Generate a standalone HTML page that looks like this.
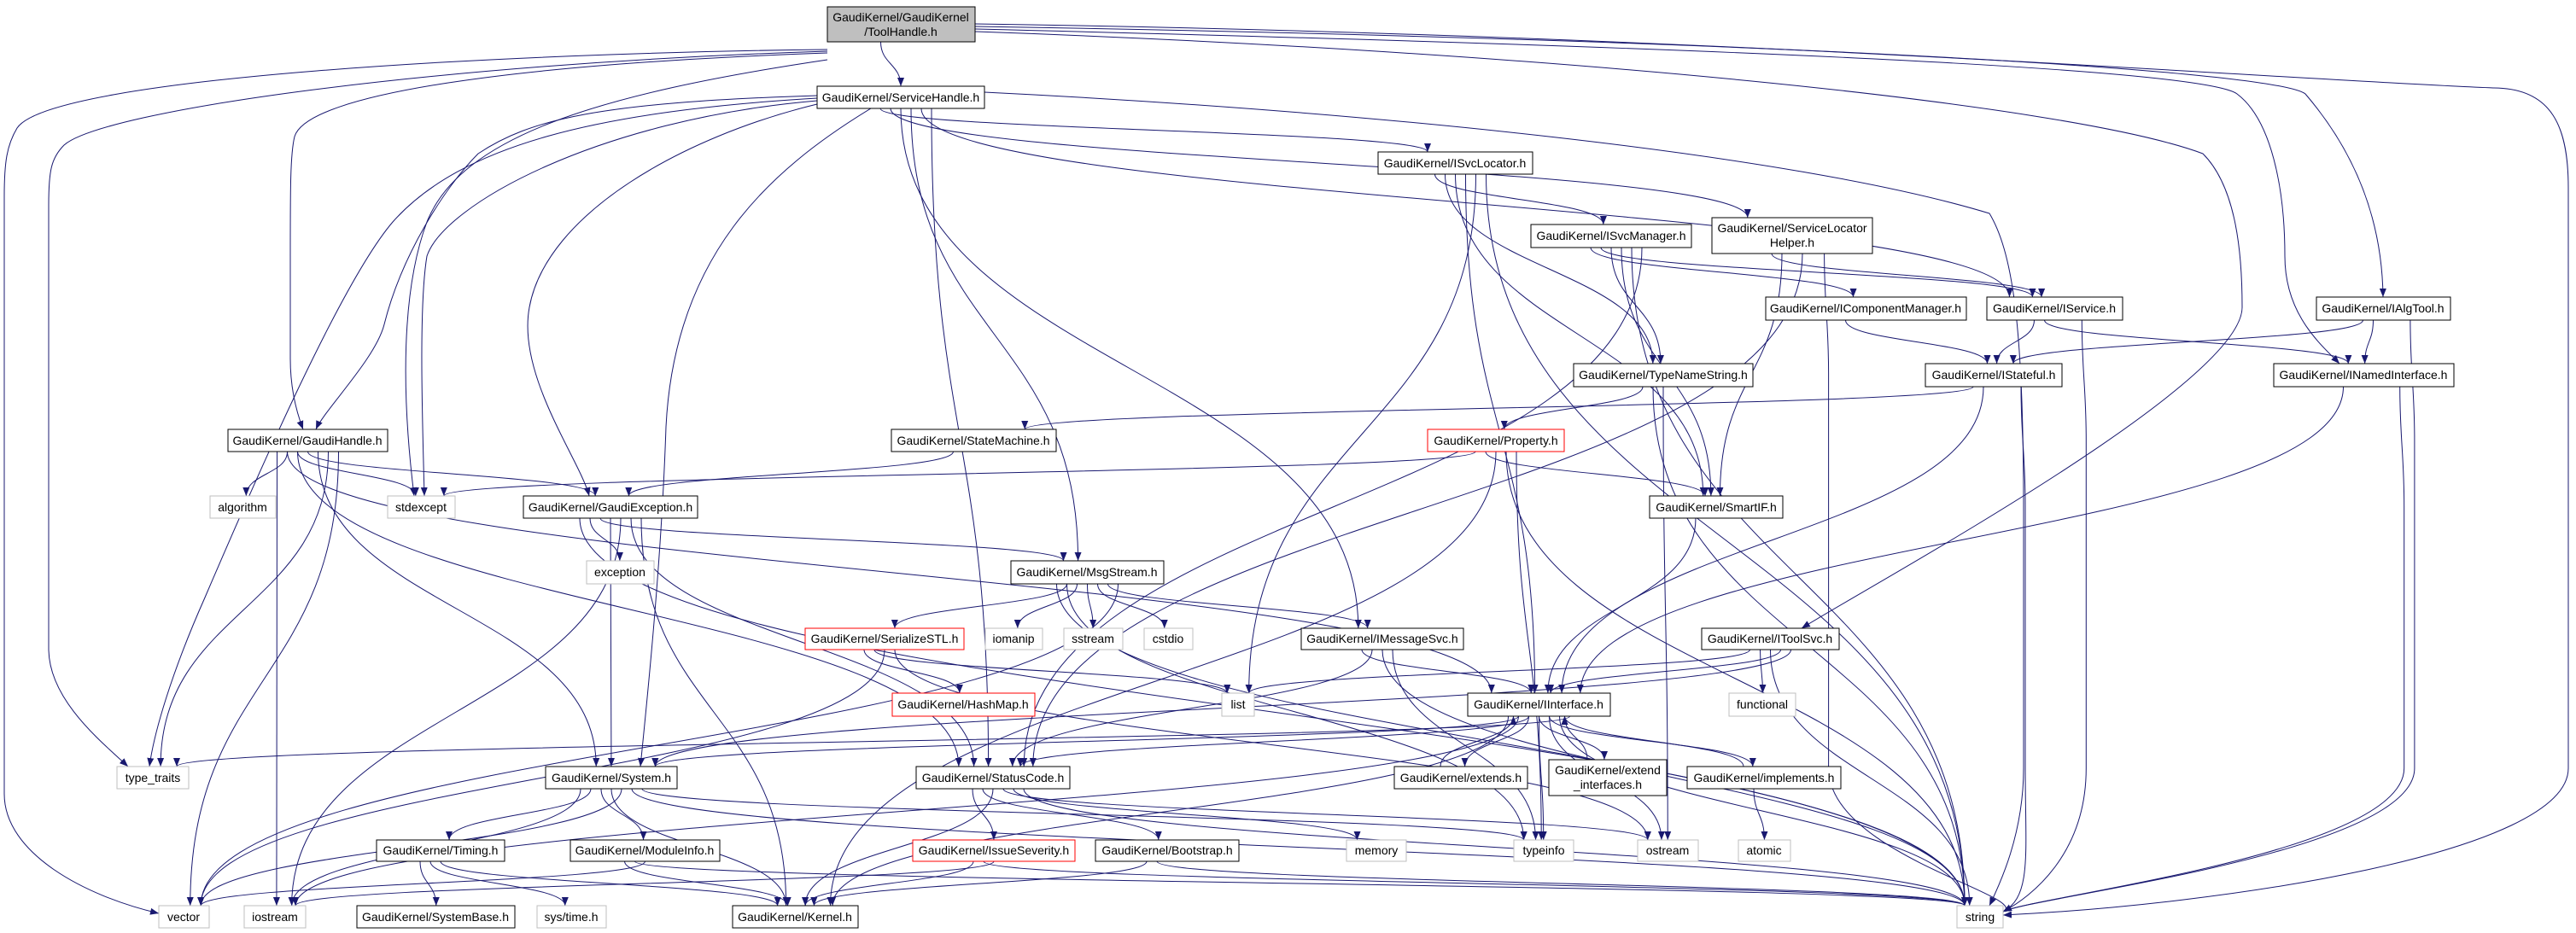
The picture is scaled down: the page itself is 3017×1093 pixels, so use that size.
<!DOCTYPE html>
<html><head><meta charset="utf-8">
<style>
html,body{margin:0;padding:0;background:#fff;}
svg{display:block;}
text{font-family:"Liberation Sans",Arial,sans-serif;font-size:14px;fill:#000;}
</style></head>
<body>
<svg id="g" width="3017" height="1093" viewBox="0 0 3017 1093" xmlns="http://www.w3.org/2000/svg">
<defs><marker id="a" viewBox="0 0 10 10" refX="10" refY="5" markerWidth="10" markerHeight="10" markerUnits="userSpaceOnUse" orient="auto"><path d="M0,1 L10,5 L0,9 z" fill="#191970"/></marker></defs>
<g id="edges" fill="none" stroke="#191970" stroke-width="1"></g>
<g id="nodes">
<rect x="969" y="8" width="173" height="41" fill="#bfbfbf" stroke="#000"/><text x="1055" y="25" text-anchor="middle">GaudiKernel/GaudiKernel</text><text x="1055" y="42" text-anchor="middle">/ToolHandle.h</text>
<rect x="957" y="101" width="196" height="26" fill="#fff" stroke="#000"/><text x="1055" y="119" text-anchor="middle">GaudiKernel/ServiceHandle.h</text>
<rect x="267" y="503" width="187" height="26" fill="#fff" stroke="#000"/><text x="360" y="521" text-anchor="middle">GaudiKernel/GaudiHandle.h</text>
<rect x="1614" y="178" width="181" height="26" fill="#fff" stroke="#000"/><text x="1704" y="196" text-anchor="middle">GaudiKernel/ISvcLocator.h</text>
<rect x="1793" y="263" width="188" height="27" fill="#fff" stroke="#000"/><text x="1887" y="281" text-anchor="middle">GaudiKernel/ISvcManager.h</text>
<rect x="1843" y="426" width="210" height="27" fill="#fff" stroke="#000"/><text x="1948" y="444" text-anchor="middle">GaudiKernel/TypeNameString.h</text>
<rect x="1044" y="503" width="193" height="26" fill="#fff" stroke="#000"/><text x="1140" y="521" text-anchor="middle">GaudiKernel/StateMachine.h</text>
<rect x="1672" y="503" width="160" height="26" fill="#fff" stroke="#f00"/><text x="1752" y="521" text-anchor="middle">GaudiKernel/Property.h</text>
<rect x="2005" y="255" width="188" height="42" fill="#fff" stroke="#000"/><text x="2099" y="272" text-anchor="middle">GaudiKernel/ServiceLocator</text><text x="2099" y="289" text-anchor="middle">Helper.h</text>
<rect x="2068" y="348" width="235" height="27" fill="#fff" stroke="#000"/><text x="2185" y="366" text-anchor="middle">GaudiKernel/IComponentManager.h</text>
<rect x="2327" y="348" width="159" height="27" fill="#fff" stroke="#000"/><text x="2406" y="366" text-anchor="middle">GaudiKernel/IService.h</text>
<rect x="2713" y="348" width="157" height="27" fill="#fff" stroke="#000"/><text x="2791" y="366" text-anchor="middle">GaudiKernel/IAlgTool.h</text>
<rect x="2255" y="426" width="160" height="27" fill="#fff" stroke="#000"/><text x="2335" y="444" text-anchor="middle">GaudiKernel/IStateful.h</text>
<rect x="2663" y="426" width="211" height="27" fill="#fff" stroke="#000"/><text x="2768" y="444" text-anchor="middle">GaudiKernel/INamedInterface.h</text>
<rect x="246" y="581" width="77" height="26" fill="#fff" stroke="#bfbfbf"/><text x="284" y="599" text-anchor="middle">algorithm</text>
<rect x="454" y="581" width="79" height="26" fill="#fff" stroke="#bfbfbf"/><text x="493" y="599" text-anchor="middle">stdexcept</text>
<rect x="613" y="581" width="204" height="26" fill="#fff" stroke="#000"/><text x="715" y="599" text-anchor="middle">GaudiKernel/GaudiException.h</text>
<rect x="687" y="657" width="79" height="27" fill="#fff" stroke="#bfbfbf"/><text x="726" y="675" text-anchor="middle">exception</text>
<rect x="943" y="736" width="186" height="25" fill="#fff" stroke="#f00"/><text x="1036" y="753" text-anchor="middle">GaudiKernel/SerializeSTL.h</text>
<rect x="137" y="898" width="84" height="26" fill="#fff" stroke="#bfbfbf"/><text x="179" y="916" text-anchor="middle">type_traits</text>
<rect x="639" y="898" width="154" height="26" fill="#fff" stroke="#000"/><text x="716" y="916" text-anchor="middle">GaudiKernel/System.h</text>
<rect x="441" y="984" width="150" height="25" fill="#fff" stroke="#000"/><text x="516" y="1001" text-anchor="middle">GaudiKernel/Timing.h</text>
<rect x="668" y="984" width="175" height="25" fill="#fff" stroke="#000"/><text x="755" y="1001" text-anchor="middle">GaudiKernel/ModuleInfo.h</text>
<rect x="186" y="1061" width="59" height="26" fill="#fff" stroke="#bfbfbf"/><text x="215" y="1079" text-anchor="middle">vector</text>
<rect x="286" y="1061" width="72" height="26" fill="#fff" stroke="#bfbfbf"/><text x="322" y="1079" text-anchor="middle">iostream</text>
<rect x="418" y="1061" width="185" height="26" fill="#fff" stroke="#000"/><text x="510" y="1079" text-anchor="middle">GaudiKernel/SystemBase.h</text>
<rect x="629" y="1061" width="81" height="26" fill="#fff" stroke="#bfbfbf"/><text x="669" y="1079" text-anchor="middle">sys/time.h</text>
<rect x="858" y="1061" width="147" height="26" fill="#fff" stroke="#000"/><text x="931" y="1079" text-anchor="middle">GaudiKernel/Kernel.h</text>
<rect x="1184" y="657" width="179" height="27" fill="#fff" stroke="#000"/><text x="1273" y="675" text-anchor="middle">GaudiKernel/MsgStream.h</text>
<rect x="1154" y="736" width="67" height="25" fill="#fff" stroke="#bfbfbf"/><text x="1187" y="753" text-anchor="middle">iomanip</text>
<rect x="1246" y="736" width="69" height="25" fill="#fff" stroke="#bfbfbf"/><text x="1280" y="753" text-anchor="middle">sstream</text>
<rect x="1340" y="736" width="57" height="25" fill="#fff" stroke="#bfbfbf"/><text x="1368" y="753" text-anchor="middle">cstdio</text>
<rect x="1524" y="736" width="190" height="25" fill="#fff" stroke="#000"/><text x="1619" y="753" text-anchor="middle">GaudiKernel/IMessageSvc.h</text>
<rect x="1045" y="812" width="167" height="27" fill="#fff" stroke="#f00"/><text x="1128" y="830" text-anchor="middle">GaudiKernel/HashMap.h</text>
<rect x="1431" y="812" width="38" height="27" fill="#fff" stroke="#bfbfbf"/><text x="1450" y="830" text-anchor="middle">list</text>
<rect x="1719" y="812" width="167" height="27" fill="#fff" stroke="#000"/><text x="1802" y="830" text-anchor="middle">GaudiKernel/IInterface.h</text>
<rect x="1073" y="898" width="180" height="26" fill="#fff" stroke="#000"/><text x="1163" y="916" text-anchor="middle">GaudiKernel/StatusCode.h</text>
<rect x="1633" y="898" width="156" height="26" fill="#fff" stroke="#000"/><text x="1711" y="916" text-anchor="middle">GaudiKernel/extends.h</text>
<rect x="1814" y="890" width="138" height="42" fill="#fff" stroke="#000"/><text x="1883" y="907" text-anchor="middle">GaudiKernel/extend</text><text x="1883" y="924" text-anchor="middle">_interfaces.h</text>
<rect x="1976" y="898" width="180" height="26" fill="#fff" stroke="#000"/><text x="2066" y="916" text-anchor="middle">GaudiKernel/implements.h</text>
<rect x="1069" y="984" width="190" height="25" fill="#fff" stroke="#f00"/><text x="1164" y="1001" text-anchor="middle">GaudiKernel/IssueSeverity.h</text>
<rect x="1283" y="984" width="168" height="25" fill="#fff" stroke="#000"/><text x="1367" y="1001" text-anchor="middle">GaudiKernel/Bootstrap.h</text>
<rect x="1577" y="984" width="70" height="25" fill="#fff" stroke="#bfbfbf"/><text x="1612" y="1001" text-anchor="middle">memory</text>
<rect x="1773" y="984" width="70" height="25" fill="#fff" stroke="#bfbfbf"/><text x="1808" y="1001" text-anchor="middle">typeinfo</text>
<rect x="1918" y="984" width="71" height="25" fill="#fff" stroke="#bfbfbf"/><text x="1953" y="1001" text-anchor="middle">ostream</text>
<rect x="1932" y="581" width="156" height="26" fill="#fff" stroke="#000"/><text x="2010" y="599" text-anchor="middle">GaudiKernel/SmartIF.h</text>
<rect x="1993" y="736" width="161" height="25" fill="#fff" stroke="#000"/><text x="2073" y="753" text-anchor="middle">GaudiKernel/IToolSvc.h</text>
<rect x="2025" y="812" width="78" height="27" fill="#fff" stroke="#bfbfbf"/><text x="2064" y="830" text-anchor="middle">functional</text>
<rect x="2036" y="984" width="61" height="25" fill="#fff" stroke="#bfbfbf"/><text x="2066" y="1001" text-anchor="middle">atomic</text>
<rect x="2292" y="1061" width="54" height="26" fill="#fff" stroke="#bfbfbf"/><text x="2319" y="1079" text-anchor="middle">string</text>
</g>
</svg>
<script>
var N={TH:[969,8,173,41],SH:[957,101,196,26],GH:[267,503,187,26],SL:[1614,178,181,26],SM:[1793,263,188,27],TN:[1843,426,210,27],ST:[1044,503,193,26],PR:[1672,503,160,26],SLH:[2005,255,188,42],CM:[2068,348,235,27],IS:[2327,348,159,27],AT:[2713,348,157,27],SF:[2255,426,160,27],NI:[2663,426,211,27],alg:[246,581,77,26],sx:[454,581,79,26],GE:[613,581,204,26],exc:[687,657,79,27],SS:[943,736,186,25],tt:[137,898,84,26],SY:[639,898,154,26],TI:[441,984,150,25],MI:[668,984,175,25],vec:[186,1061,59,26],ios:[286,1061,72,26],SB:[418,1061,185,26],stm:[629,1061,81,26],KE:[858,1061,147,26],MS:[1184,657,179,27],iom:[1154,736,67,25],sst:[1246,736,69,25],cst:[1340,736,57,25],MSV:[1524,736,190,25],HM:[1045,812,167,27],lst:[1431,812,38,27],II:[1719,812,167,27],SC:[1073,898,180,26],EX:[1633,898,156,26],EI:[1814,890,138,42],IM:[1976,898,180,26],ISV:[1069,984,190,25],BS:[1283,984,168,25],mem:[1577,984,70,25],ti:[1773,984,70,25],ost:[1918,984,71,25],SI:[1932,581,156,26],TS:[1993,736,161,25],fn:[2025,812,78,27],atm:[2036,984,61,25],str:[2292,1061,54,26]};
var C={
"TH>vec":"M969,58 C600,62 60,90 20,150 C8,170 5,190 5,230 L5,930 C5,1000 100,1050 186,1070",
"TH>tt":"M969,60 C500,75 120,130 75,170 C60,185 57,200 57,240 L57,760 C57,820 120,870 150,898",
"TH>GH":"M969,62 C600,75 360,110 345,160 C340,180 340,220 340,300 L340,420 C340,460 350,490 355,503",
"TH>sx":"M969,70 C700,110 540,160 500,260 C470,340 470,460 485,581",
"TH>str":"M1142,28 C2000,40 2700,95 2920,103 C2990,103 3008,150 3008,220 L3008,900 C3008,1000 2600,1060 2346,1072",
"TH>AT":"M1142,31 C2000,45 2660,80 2700,110 C2760,180 2790,260 2791,348",
"TH>NI":"M1142,34 C2000,55 2580,80 2620,110 C2660,140 2676,220 2676,300 C2676,370 2720,405 2740,426",
"TH>TS":"M1142,37 C1800,60 2420,120 2580,180 C2620,220 2626,300 2626,360 C2626,450 2200,680 2110,736",
"SH>GH":"M957,112 C700,120 620,140 560,180 C520,220 470,300 450,380 C440,420 380,480 370,503",
"SH>tt":"M957,115 C700,130 540,170 460,260 C400,330 300,560 240,700 C200,790 180,860 175,898",
"SH>sx":"M957,118 C700,140 520,240 500,300 C490,360 495,500 497,581",
"SH>str":"M1153,108 C1600,130 2100,180 2330,250 C2360,300 2370,400 2370,600 L2370,900 C2370,980 2340,1040 2330,1061",
"SH>GE":"M957,122 C800,160 640,250 620,360 C605,440 680,540 690,581",
"SH>SY":"M1020,127 C900,200 790,300 780,500 C775,650 760,800 750,898"
};
var E=[["TH","SH"],["TH","GH"],["TH","AT"],["TH","TS"],["TH","NI"],["TH","sx"],["TH","tt"],["TH","vec"],["TH","str"],
["SH","GH"],["SH","GE"],["SH","SL"],["SH","SLH"],["SH","MSV"],["SH","MS"],["SH","IS"],["SH","sx"],["SH","tt"],["SH","str"],["SH","SC"],["SH","SY"],
["GH","alg"],["GH","sx"],["GH","GE"],["GH","SY"],["GH","tt"],["GH","vec"],["GH","ios"],["GH","II"],["GH","SC"],
["GE","exc"],["GE","MS"],["GE","SY"],["GE","ios"],["GE","SC"],["GE","KE"],["GE","str"],
["SL","SM"],["SL","TN"],["SL","SI"],["SL","II"],["SL","lst"],["SL","str"],
["SM","CM"],["SM","IS"],["SM","TN"],["SM","SI"],["SM","str"],["SM","SC"],
["SLH","IS"],["SLH","SI"],["SLH","str"],["SLH","SC"],
["CM","SF"],["IS","SF"],["IS","NI"],["IS","str"],["AT","SF"],["AT","NI"],["AT","str"],
["SF","ST"],["SF","II"],["SF","str"],["NI","II"],["NI","str"],
["TN","PR"],["TN","str"],["TN","ost"],["ST","GE"],
["PR","sx"],["PR","SI"],["PR","KE"],["PR","str"],["PR","ti"],["SI","II"],
["MS","SS"],["MS","iom"],["MS","sst"],["MS","cst"],["MS","MSV"],["MS","vec"],["MS","str"],["MS","ti"],
["SS","HM"],["SS","lst"],["SS","vec"],["SS","ost"],
["MSV","II"],["MSV","SC"],["MSV","str"],["MSV","ti"],
["TS","lst"],["TS","fn"],["TS","str"],["TS","II"],["TS","SY"],
["II","SY"],["II","SC"],["II","ti"],["II","ost"],["II","str"],["II","tt"],["II","KE"],["II","ios"],
["EX","II"],["EI","II"],["IM","II"],["II","EX"],["II","EI"],["II","IM"],["IM","atm"],
["SY","TI"],["SY","MI"],["SY","KE"],["SY","vec"],["SY","str"],["SY","ti"],["SY","ios"],
["TI","SB"],["TI","stm"],["TI","KE"],["MI","KE"],["MI","str"],["MI","vec"],
["SC","ISV"],["SC","BS"],["SC","KE"],["SC","ost"],["SC","mem"],["SC","str"],
["ISV","KE"],["ISV","str"],["ISV","ios"],["BS","KE"],["BS","str"]];
var g=document.getElementById("edges"),s="",cnt={};
E.forEach(function(e){
 var key=e[0]+">"+e[1],d;
 if(C[key]){s+='<path d="'+C[key]+'" marker-end="url(#a)"/>';return;}
 var a=N[e[0]],b=N[e[1]];
 var ax=a[0]+a[2]/2,bx=b[0]+b[2]/2;
 var k=e[0];cnt[k]=(cnt[k]||0)+1;
 var off=((cnt[k]%7)-3)*Math.min(a[2]/8,12);
 if(e[1]=="str" && a[0]>2000){
  var x1=a[0]+a[2]*0.7,y1=a[1]+a[3];
  d="M"+x1+","+y1+" C"+x1+","+(y1+60)+" "+(x1+5)+","+(y1+80)+" "+(x1+5)+","+(y1+140)+" L"+(x1+5)+",900 C"+(x1+5)+",1000 2380,1050 2346,1068";
 } else if(b[1]>=a[1]+a[3]+4){
  var x1=ax+off,y1=a[1]+a[3],x2=bx+Math.max(-b[2]/3,Math.min(b[2]/3,(ax-bx)*0.05)),y2=b[1];
  var m=(y2-y1)*0.5;
  d="M"+x1+","+y1+" C"+x1+","+(y1+m)+" "+x2+","+(y2-m)+" "+x2+","+y2;
 } else if(b[1]+b[3]<=a[1]-4){
  var x1=ax+off,y1=a[1],x2=bx+(ax>bx?30:-30),y2=b[1]+b[3];
  var m=(y1-y2)*0.5;
  d="M"+x1+","+y1+" C"+x1+","+(y1-m)+" "+x2+","+(y2+m)+" "+x2+","+y2;
 } else {
  var y1=a[1]+a[3]/2,y2=b[1]+b[3]/2,x1,x2;
  if(bx<ax){x1=a[0];x2=b[0]+b[2];}else{x1=a[0]+a[2];x2=b[0];}
  var m=(x2-x1)*0.5;
  d="M"+x1+","+y1+" C"+(x1+m)+","+y1+" "+(x2-m)+","+y2+" "+x2+","+y2;
 }
 s+='<path d="'+d+'" marker-end="url(#a)"/>';
});
g.innerHTML=s;
</script>
</body></html>
